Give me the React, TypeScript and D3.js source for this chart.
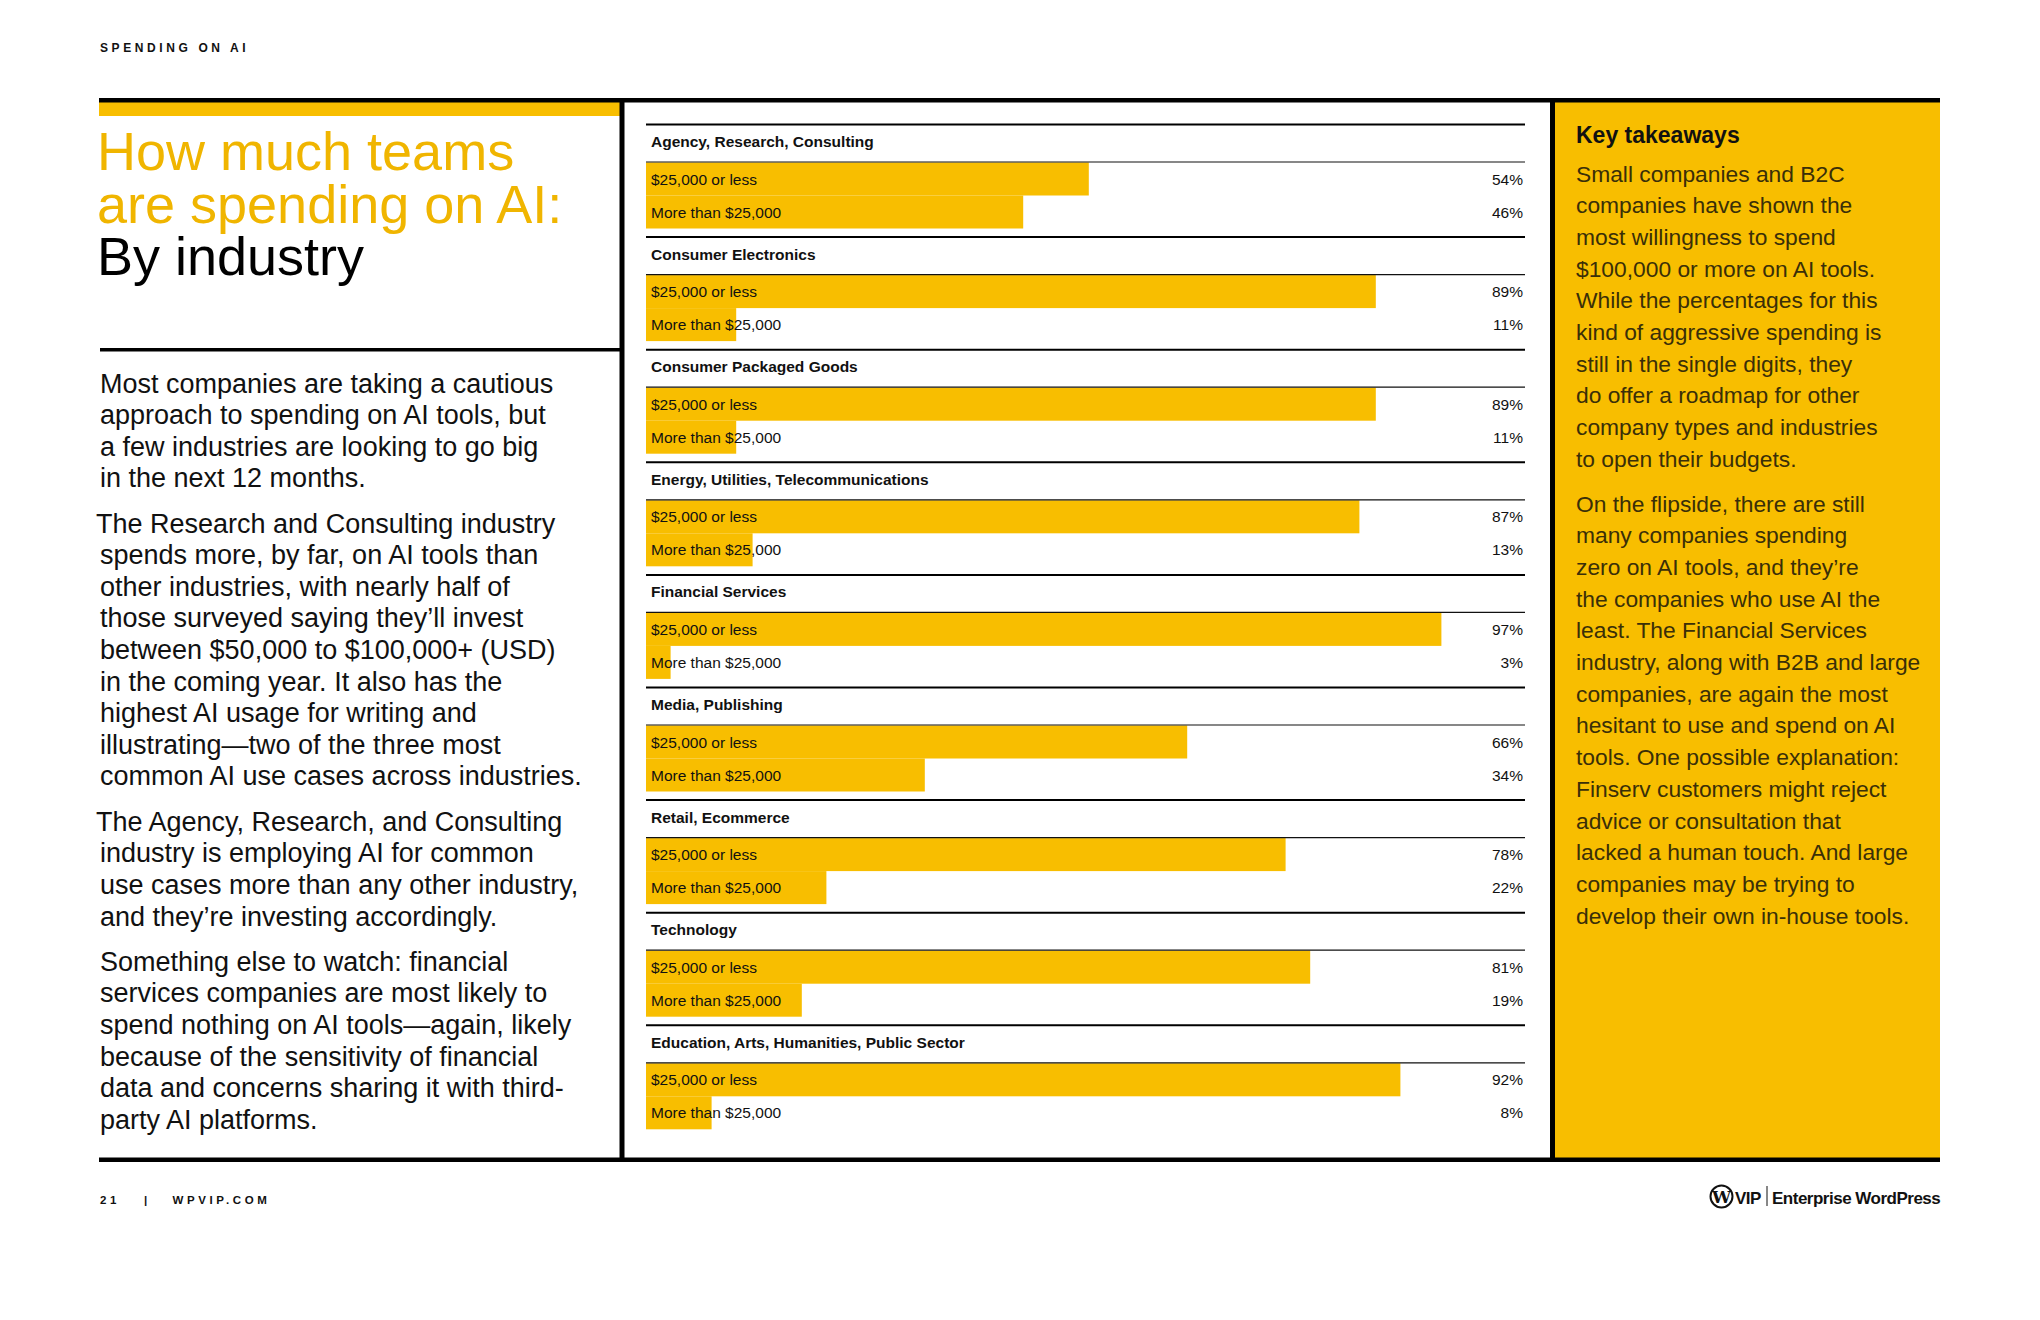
import React from "react";
import * as d3 from "d3";

// values
const industries = [
  "Agency, Research, Consulting",
  "Consumer Electronics",
  "Consumer Packaged Goods",
  "Energy, Utilities, Telecommunications",
  "Financial Services",
  "Media, Publishing",
  "Retail, Ecommerce",
  "Technology",
  "Education, Arts, Humanities, Public Sector",
];
const spendLabels = ["$25,000 or less", "More than $25,000"];
const lessOrEqual = [54, 89, 89, 87, 97, 66, 78, 81, 92];
const moreThan = [46, 11, 11, 13, 3, 34, 22, 19, 8];

const titleYellow = ["How much teams", "are spending on AI:"];
const titleBlack = "By industry";

const leftParagraphs = [
  [
    "Most companies are taking a cautious",
    "approach to spending on AI tools, but",
    "a few industries are looking to go big",
    "in the next 12 months.",
  ],
  [
    "The Research and Consulting industry",
    "spends more, by far, on AI tools than",
    "other industries, with nearly half of",
    "those surveyed saying they\u2019ll invest",
    "between $50,000 to $100,000+ (USD)",
    "in the coming year. It also has the",
    "highest AI usage for writing and",
    "illustrating\u2014two of the three most",
    "common AI use cases across industries.",
  ],
  [
    "The Agency, Research, and Consulting",
    "industry is employing AI for common",
    "use cases more than any other industry,",
    "and they\u2019re investing accordingly.",
  ],
  [
    "Something else to watch: financial",
    "services companies are most likely to",
    "spend nothing on AI tools\u2014again, likely",
    "because of the sensitivity of financial",
    "data and concerns sharing it with third-",
    "party AI platforms.",
  ],
];

const takeawayParagraphs = [
  [
    "Small companies and B2C",
    "companies have shown the",
    "most willingness to spend",
    "$100,000 or more on AI tools.",
    "While the percentages for this",
    "kind of aggressive spending is",
    "still in the single digits, they",
    "do offer a roadmap for other",
    "company types and industries",
    "to open their budgets.",
  ],
  [
    "On the flipside, there are still",
    "many companies spending",
    "zero on AI tools, and they\u2019re",
    "the companies who use AI the",
    "least. The Financial Services",
    "industry, along with B2B and large",
    "companies, are again the most",
    "hesitant to use and spend on AI",
    "tools. One possible explanation:",
    "Finserv customers might reject",
    "advice or consultation that",
    "lacked a human touch. And large",
    "companies may be trying to",
    "develop their own in-house tools.",
  ],
];

const width = 2040;
const height = 1320;
const yellow = "#F8BE00";
const titleColor = "#F0B500";
const font = "'Liberation Sans', Arial, sans-serif";

// lay out paragraphs: baseline of every line
function layoutLines(paras: string[][], top: number, lh: number, gap: number) {
  const out: { text: string; y: number; first: boolean }[] = [];
  let y = top;
  paras.forEach((p, pi) => {
    if (pi > 0) y += gap;
    p.forEach((t, i) => {
      out.push({ text: t, y, first: i === 0 });
      if (i < p.length - 1 || pi < paras.length - 1) y += lh;
    });
  });
  return out;
}

const App = () => {
  const rows = industries.map((name, i) => ({
    name,
    values: [lessOrEqual[i], moreThan[i]],
  }));

  // group position
  const y = d3
    .scaleBand<string>()
    .domain(industries)
    .range([124.5, 124.5 + 112.6 * industries.length])
    .paddingInner(0);

  // bar length
  const x = d3.scaleLinear().domain([0, 100]).range([646, 1466]);
  const lineEnd = 1525;

  // bars inside a group
  const inner = d3.scaleBand<string>().domain(spendLabels).range([38, 104]);

  const leftLines = layoutLines(leftParagraphs, 392.5, 31.6, 13.7);
  const rightLines = layoutLines(takeawayParagraphs, 181.7, 31.67, 13.4);

  return (
    <svg
      width={width}
      height={height}
      style={{ position: "absolute", left: 0, top: 0, background: "#fff" }}
      fontFamily={font}
    >
      <rect width={width} height={height} fill="#fff" />

      {/* header */}
      <text x={100} y={52} fontSize={12} fontWeight={700} letterSpacing={3.6} fill="#111">
        SPENDING ON AI
      </text>

      {/* frames */}
      <rect x={1555} y={102} width={385} height={1056} fill={yellow} />
      <rect x={99} y={102} width={521} height={14} fill={yellow} />
      <rect x={99} y={98} width={1841} height={4.5} fill="#000" />
      <rect x={99} y={1157.5} width={1841} height={4.5} fill="#000" />
      <rect x={619.5} y={98} width={5} height={1064} fill="#000" />
      <rect x={1550} y={98} width={5} height={1064} fill="#000" />
      <rect x={100} y={348} width={520} height={3.5} fill="#000" />

      {/* title */}
      {titleYellow.map((t, i) => (
        <text key={t} x={97} y={170 + i * 52.5} fontSize={54} fill={titleColor}>
          {t}
        </text>
      ))}
      <text x={97} y={275} fontSize={54} fill="#000">
        {titleBlack}
      </text>

      {/* left body copy */}
      {leftLines.map((l, i) => (
        <text
          key={i}
          x={l.first && l.text.startsWith("The") ? 96 : 100}
          y={l.y}
          fontSize={27}
          fill="#111"
        >
          {l.text}
        </text>
      ))}

      {/* chart */}
      {rows.map((r) => {
        const g = y(r.name)!;
        return (
          <g key={r.name} transform={`translate(0,${g})`}>
            <line x1={646} x2={lineEnd} y1={0} y2={0} stroke="#000" strokeWidth={2} />
            <text x={651} y={22.5} fontSize={15.5} fontWeight={600} fill="#111">
              {r.name}
            </text>
            {r.values.map((v, j) => {
              const by = inner(spendLabels[j])!;
              const bh = inner.bandwidth();
              return (
                <g key={j}>
                  <rect x={x(0)} y={by} width={x(v) - x(0)} height={bh} fill={yellow} />
                  <text x={651} y={by + bh / 2 + 5.5} fontSize={15.5} fill="#111">
                    {spendLabels[j]}
                  </text>
                  <text x={1523} y={by + bh / 2 + 5.5} fontSize={15.5} fill="#111" textAnchor="end">
                    {v}%
                  </text>
                </g>
              );
            })}
            <line x1={646} x2={lineEnd} y1={37.5} y2={37.5} stroke="#111" strokeWidth={1.2} />
          </g>
        );
      })}

      {/* key takeaways */}
      <text x={1576} y={143} fontSize={23} fontWeight={700} fill="#111">
        Key takeaways
      </text>
      {rightLines.map((l, i) => (
        <text key={i} x={1576} y={l.y} fontSize={22.8} fill="#3a2f08">
          {l.text}
        </text>
      ))}

      {/* footer */}
      <text x={100} y={1203.5} fontSize={11.5} fontWeight={700} letterSpacing={3.6} fill="#111">
        21
      </text>
      <text x={144} y={1203.5} fontSize={11.5} fontWeight={700} fill="#111">
        |
      </text>
      <text x={172.5} y={1203.5} fontSize={11.5} fontWeight={700} letterSpacing={3.6} fill="#111">
        WPVIP.COM
      </text>

      <g>
        <circle cx={1721.5} cy={1196.5} r={11} fill="none" stroke="#111" strokeWidth={2} />
        <text x={1721.5} y={1203} fontSize={17} fontWeight={700} textAnchor="middle" fill="#111" fontFamily="'DejaVu Serif', serif">
          W
        </text>
        <text x={1735} y={1203.5} fontSize={17} fontWeight={700} letterSpacing={-0.5} fill="#111">
          VIP
        </text>
        <line x1={1767} x2={1767} y1={1186} y2={1206} stroke="#111" strokeWidth={1} />
        <text x={1772} y={1203.5} fontSize={17} fontWeight={700} letterSpacing={-0.5} fill="#111">
          Enterprise WordPress
        </text>
      </g>
    </svg>
  );
};

export default App;
